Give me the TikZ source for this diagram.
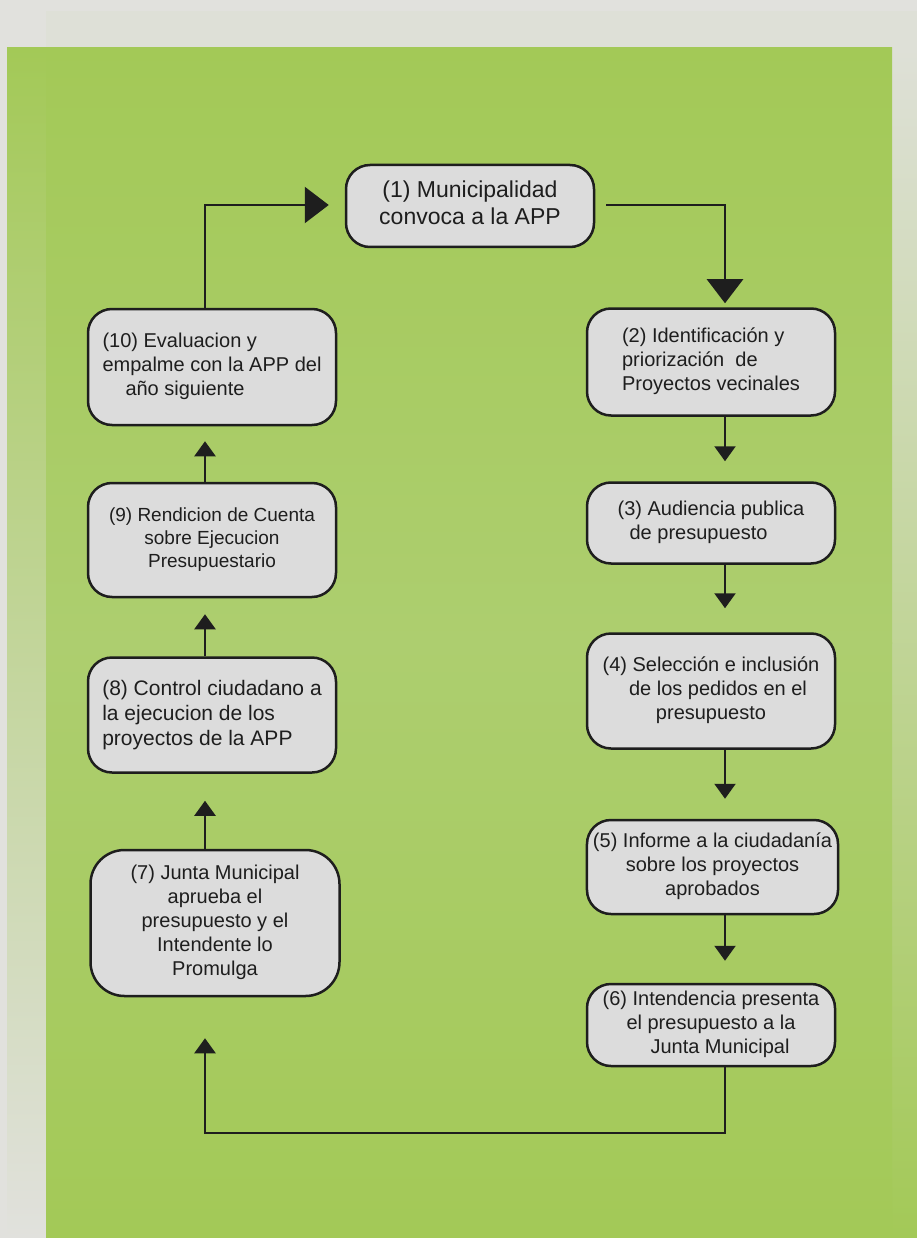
\documentclass[tikz,border=0pt]{standalone}
\usepackage{fontspec}
\setmainfont{Liberation Sans}
\usepackage{tikz}
\usetikzlibrary{arrows.meta}
\usetikzlibrary{calc}
\definecolor{mygreen}{RGB}{163, 201, 87}
\definecolor{lightgreen}{RGB}{173, 206, 111}
\definecolor{bggray}{RGB}{225, 225, 221}
\definecolor{stripgray}{RGB}{222, 224, 215}
\definecolor{boxgray}{RGB}{220, 220, 220}
\definecolor{inkblack}{RGB}{30, 30, 30}

\begin{document}
\begin{tikzpicture}[x=1pt,y=-1pt]

\tikzstyle{gray_block} = [draw=inkblack, line width=2.5, fill=boxgray, rounded corners=24,
inner sep=0, text=inkblack, font=\fontsize{20}{24}\selectfont]
\tikzstyle{big_arrow} = [draw=inkblack, line width=2.5, -{Triangle[length=24pt,width=36pt]}]
\tikzstyle{small_arrow} = [draw=inkblack, line width=2.3, -{Triangle[length=15pt,width=21pt]}]

% background panels
\useasboundingbox (0,0) rectangle (917,1238);
\fill[bggray] (0,0) rectangle (917,1238);
\fill[stripgray] (46,11) rectangle (917,48);
\shade[top color=stripgray, bottom color=mygreen] (892,48) rectangle (917,1238);
\shade[top color=mygreen, bottom color=bggray] (7,48) rectangle (46,1238);
\shade[top color=mygreen, bottom color=lightgreen] (46,48) rectangle (892,643);
\shade[top color=lightgreen, bottom color=mygreen] (46,642) rectangle (892,1238);

% steps
\node [gray_block, minimum width=248, minimum height=82, font=\fontsize{23}{27}\selectfont] (b1) at (470,206)
{\begin{tabular}{c} (1) Municipalidad\\ convoca a la APP\end{tabular}};
\node [gray_block, minimum width=248, minimum height=107] (b2) at (711,362)
{\begin{tabular}{l} (2) Identificación y\\ priorización\ \ de\\ Proyectos vecinales\end{tabular}};
\node [gray_block, minimum width=248, minimum height=81] (b3) at (711,523)
{\begin{tabular}{l} (3) Audiencia publica\\ \hspace*{12pt}de presupuesto\end{tabular}};
\node [gray_block, minimum width=248, minimum height=115] (b4) at (711,691)
{\begin{tabular}{c} (4) Selección e inclusión\\ \hspace*{14pt}de los pedidos en el\\ presupuesto\end{tabular}};
\node [gray_block, minimum width=251, minimum height=94] (b5) at (712.5,867)
{\begin{tabular}{c} (5) Informe a la ciudadanía\\ sobre los proyectos\\ aprobados\end{tabular}};
\node [gray_block, minimum width=248, minimum height=82] (b6) at (711,1025)
{\begin{tabular}{c} (6) Intendencia presenta\\ el presupuesto a la\\ \hspace*{18pt}Junta Municipal\end{tabular}};
\node [gray_block, minimum width=249, minimum height=146, rounded corners=34] (b7) at (215,923)
{\begin{tabular}{c} (7) Junta Municipal\\ aprueba el\\ presupuesto y el\\ Intendente lo\\ Promulga\end{tabular}};
\node [gray_block, minimum width=248, minimum height=115, font=\fontsize{21}{25}\selectfont] (b8) at (212,715)
{\begin{tabular}{l} (8) Control ciudadano a\\ la ejecucion de los\\ proyectos de la APP\end{tabular}};
\node [gray_block, minimum width=248, minimum height=114, font=\fontsize{19}{23}\selectfont] (b9) at (212,540)
{\begin{tabular}{c} (9) Rendicion de Cuenta\\ sobre Ejecucion\\ Presupuestario\end{tabular}};
\node [gray_block, minimum width=248, minimum height=116] (b10) at (212,367)
{\begin{tabular}{l} (10) Evaluacion y\\ empalme con la APP del\\ \hspace*{23pt}año siguiente\end{tabular}};

% corners of the loop
\coordinate (tl) at (205,205);
\coordinate (tr) at (725,205);
\coordinate (bl) at (205,1133);
\coordinate (br) at (725,1133);

\draw[big_arrow, shorten >=16pt] (b10.north -| tl) -- (tl) -- (b1.west |- tl);
\draw[big_arrow, shorten <=11pt, shorten >=4pt] (b1.east |- tr) -- (tr) -- (b2.north -| tr);

\foreach \a/\b/\g in {b2/b3/20, b3/b4/24, b4/b5/20, b5/b6/22}
  \draw[small_arrow, shorten >=\g pt] (\a.south -| br) -- (\b.north -| br);

\draw[small_arrow, shorten >=41pt] (b6.south -| br) -- (br) -- (bl) -- (b7.south -| bl);

\foreach \a/\b/\g in {b7/b8/27, b8/b9/16, b9/b10/15}
  \draw[small_arrow, shorten >=\g pt] (\a.north -| bl) -- (\b.south -| bl);

\end{tikzpicture}
\end{document}
